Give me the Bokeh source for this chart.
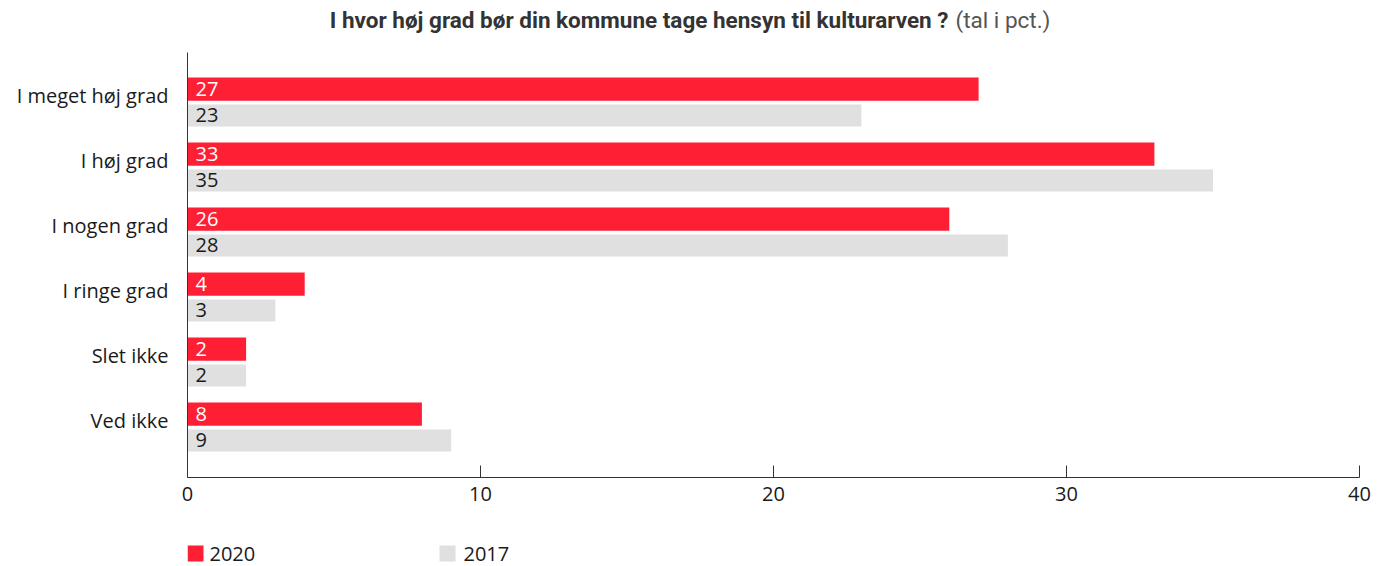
from bokeh.plotting import figure
from bokeh.layouts import column
from bokeh.models import Range1d, FixedTicker, ColumnDataSource
from bokeh.core.properties import value
from bokeh.embed import file_html
from bokeh.resources import INLINE

categories = ["I meget høj grad", "I høj grad", "I nogen grad", "I ringe grad", "Slet ikke", "Ved ikke"]
v2020 = [27, 33, 26, 4, 2, 8]
v2017 = [23, 35, 28, 3, 2, 9]
series_names = ["2020", "2017"]
x_ticks = [0, 10, 20, 30, 40]
title_main = "I hvor høj grad bør din kommune tage hensyn til kulturarven ?"
title_sub = "(tal i pct.)"

RED = "#FF1F35"
GREY = "#E0E0E0"
FONT = "Open Sans"
TFONT = "Roboto"
W = 1381
BL, BR = 187, 22          # left / right borders, shared so frames line up
FX0, FX1 = BL, W - BR     # frame edges in page pixels


def strip(height):
    fig = figure(width=W, height=height, output_backend="svg", toolbar_location=None,
                 x_range=Range1d(FX0, FX1), y_range=Range1d(height, 0),
                 min_border_left=BL, min_border_right=BR, min_border_top=0, min_border_bottom=0)
    fig.axis.visible = False
    fig.xgrid.visible = False
    fig.ygrid.visible = False
    fig.outline_line_color = None
    return fig


# ---- title strip (page y 0..40) ----
top = strip(40)
top.text(x=[948], y=[19], text=[title_main], text_align="right", text_baseline="middle",
         text_font=value(TFONT), text_font_style="bold", text_font_size="22.5px", text_color="#333333")
top.text(x=[955], y=[19], text=[title_sub], text_align="left", text_baseline="middle",
         text_font=value(TFONT), text_font_size="22.5px", text_color="#555555")

# ---- main chart (page y 40..516) ----
idx = list(range(len(categories)))
src20 = ColumnDataSource(dict(y=[i - 0.19 for i in idx], v=v2020, t=[str(v) for v in v2020]))
src17 = ColumnDataSource(dict(y=[i + 0.215 for i in idx], v=v2017, t=[str(v) for v in v2017]))

p = figure(width=W, height=476, output_backend="svg", toolbar_location=None,
           x_range=Range1d(0, 40), y_range=Range1d(5.785, -0.754),
           min_border_left=BL, min_border_right=BR, min_border_top=12, min_border_bottom=39)
p.outline_line_color = None
p.xgrid.visible = False
p.ygrid.visible = False

p.hbar(y="y", right="v", left=0, height=0.355, source=src20, color=RED, line_color=None)
p.hbar(y="y", right="v", left=0, height=0.34, source=src17, color=GREY, line_color=None)

p.text(x=0, y="y", text="t", source=src20, x_offset=8, text_baseline="middle",
       text_color="white", text_font=value(FONT), text_font_size="20px")
p.text(x=0, y="y", text="t", source=src17, x_offset=8, text_baseline="middle",
       text_color="#1a1a1a", text_font=value(FONT), text_font_size="20px")

xa = p.xaxis[0]
xa.ticker = FixedTicker(ticks=x_ticks)
xa.major_tick_in = 12
xa.major_tick_out = 0
xa.minor_tick_line_color = None
xa.axis_line_color = "#333333"
xa.major_tick_line_color = "#333333"
xa.major_label_text_font = FONT
xa.major_label_text_font_size = "20px"
xa.major_label_text_color = "#1a1a1a"
xa.major_label_standoff = 9

label_pos = [i - 0.09 for i in idx]
ya = p.yaxis[0]
ya.ticker = FixedTicker(ticks=label_pos)
ya.major_label_overrides = {pos: c for pos, c in zip(label_pos, categories)}
ya.major_tick_line_color = None
ya.minor_tick_line_color = None
ya.axis_line_color = "#333333"
ya.major_label_text_font = FONT
ya.major_label_text_font_size = "20px"
ya.major_label_text_color = "#1a1a1a"
ya.major_label_standoff = 13

# ---- legend strip (page y 516..566) ----
bot = strip(50)
bot.rect(x=[195, 447], y=[37, 37], width=16, height=16, color=[RED, GREY], line_color=None)
bot.text(x=[209, 463], y=[37, 37], text=series_names, text_baseline="middle",
         text_font=value(FONT), text_font_size="20px", text_color="#1a1a1a")

layout = column(top, p, bot, spacing=0)
open("out.html", "w").write(file_html(layout, INLINE))
